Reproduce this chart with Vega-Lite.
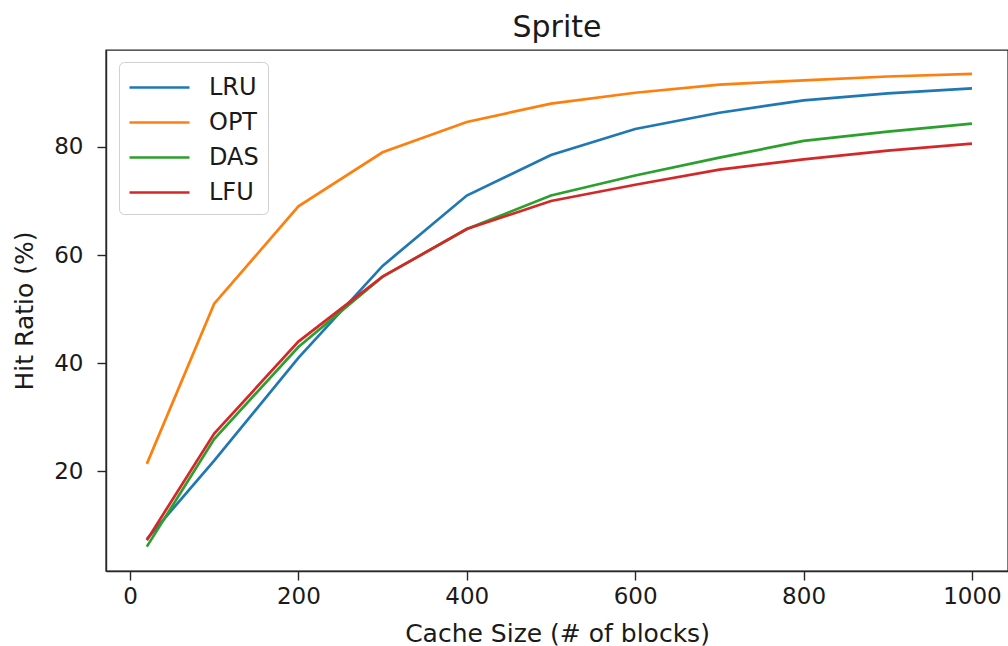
{
  "$schema": "https://vega.github.io/schema/vega-lite/v6.json",
  "autosize": "none",
  "width": 902,
  "height": 521,
  "padding": {"left": 106, "top": 50, "right": 0, "bottom": 75},
  "background": "white",
  "config": {
    "font": "DejaVu Sans",
    "view": {"stroke": "#262626", "strokeWidth": 1.4},
    "axis": {
      "domainColor": "#262626", "domainWidth": 1.4,
      "tickColor": "#262626", "tickWidth": 1.4, "tickSize": 9,
      "labelFont": "DejaVu Sans", "labelFontSize": 23, "labelColor": "#1a1a1a",
      "titleFont": "DejaVu Sans", "titleFontSize": 25, "titleFontWeight": "normal", "titleColor": "#1a1a1a",
      "grid": false
    }
  },
  "title": {"text": "Sprite", "fontSize": 30, "fontWeight": "normal", "font": "DejaVu Sans", "color": "#1a1a1a", "offset": 7},
  "data": {"values": [
    {"x": 20, "policy": "LRU", "y": 7.5},
    {"x": 100, "policy": "LRU", "y": 22},
    {"x": 200, "policy": "LRU", "y": 41},
    {"x": 300, "policy": "LRU", "y": 58},
    {"x": 400, "policy": "LRU", "y": 71},
    {"x": 500, "policy": "LRU", "y": 78.5},
    {"x": 600, "policy": "LRU", "y": 83.3},
    {"x": 700, "policy": "LRU", "y": 86.3},
    {"x": 800, "policy": "LRU", "y": 88.6},
    {"x": 900, "policy": "LRU", "y": 89.9},
    {"x": 1000, "policy": "LRU", "y": 90.8},
    {"x": 20, "policy": "OPT", "y": 21.4},
    {"x": 100, "policy": "OPT", "y": 51},
    {"x": 200, "policy": "OPT", "y": 69},
    {"x": 300, "policy": "OPT", "y": 79},
    {"x": 400, "policy": "OPT", "y": 84.6},
    {"x": 500, "policy": "OPT", "y": 88},
    {"x": 600, "policy": "OPT", "y": 90},
    {"x": 700, "policy": "OPT", "y": 91.5},
    {"x": 800, "policy": "OPT", "y": 92.3},
    {"x": 900, "policy": "OPT", "y": 93},
    {"x": 1000, "policy": "OPT", "y": 93.5},
    {"x": 20, "policy": "DAS", "y": 6.1},
    {"x": 100, "policy": "DAS", "y": 26},
    {"x": 200, "policy": "DAS", "y": 43},
    {"x": 300, "policy": "DAS", "y": 56},
    {"x": 400, "policy": "DAS", "y": 64.8},
    {"x": 500, "policy": "DAS", "y": 71},
    {"x": 600, "policy": "DAS", "y": 74.7},
    {"x": 700, "policy": "DAS", "y": 78},
    {"x": 800, "policy": "DAS", "y": 81.1},
    {"x": 900, "policy": "DAS", "y": 82.8},
    {"x": 1000, "policy": "DAS", "y": 84.3},
    {"x": 20, "policy": "LFU", "y": 7.3},
    {"x": 100, "policy": "LFU", "y": 27},
    {"x": 200, "policy": "LFU", "y": 44},
    {"x": 300, "policy": "LFU", "y": 56},
    {"x": 400, "policy": "LFU", "y": 64.8},
    {"x": 500, "policy": "LFU", "y": 70},
    {"x": 600, "policy": "LFU", "y": 73},
    {"x": 700, "policy": "LFU", "y": 75.8},
    {"x": 800, "policy": "LFU", "y": 77.7},
    {"x": 900, "policy": "LFU", "y": 79.3},
    {"x": 1000, "policy": "LFU", "y": 80.6}
  ]},
  "mark": {"type": "line", "strokeWidth": 2.7, "clip": true},
  "encoding": {
    "x": {
      "field": "x", "type": "quantitative",
      "scale": {"domain": [-28.5, 1042.8], "nice": false, "zero": false},
      "axis": {"values": [0, 200, 400, 600, 800, 1000], "format": "d", "title": "Cache Size (# of blocks)", "labelPadding": 5, "titlePadding": 13}
    },
    "y": {
      "field": "y", "type": "quantitative",
      "scale": {"domain": [1.6, 97.9], "nice": false, "zero": false},
      "axis": {"values": [20, 40, 60, 80], "title": "Hit Ratio (%)", "labelPadding": 14, "titlePadding": 16}
    },
    "color": {
      "field": "policy", "type": "nominal",
      "scale": {"domain": ["LRU", "OPT", "DAS", "LFU"], "range": ["#1f77b4", "#ff7f0e", "#2ca02c", "#d62728"]},
      "legend": {
        "title": null, "orient": "none", "legendX": 13, "legendY": 12,
        "symbolType": "M-1,0H3", "symbolSize": 900, "symbolStrokeWidth": 2.7,
        "labelFontSize": 24, "labelFont": "DejaVu Sans", "labelColor": "#1a1a1a", "labelOffset": 48,
        "fillColor": "white", "strokeColor": "#d0d0d0", "cornerRadius": 5, "padding": 9, "rowPadding": 6
      }
    }
  }
}
